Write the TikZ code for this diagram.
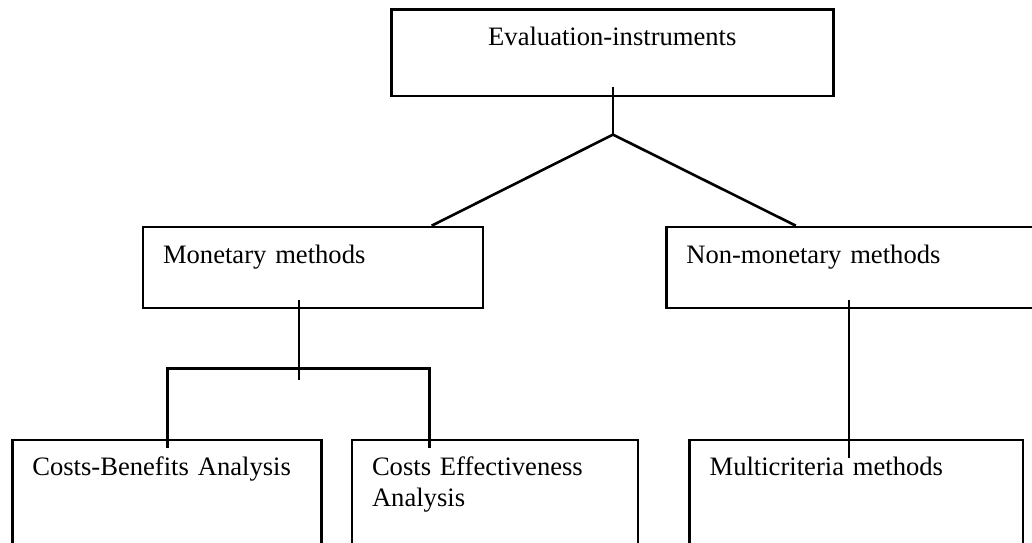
\documentclass[tikz,border=0pt]{standalone}
\usepackage{fontspec}
\setmainfont{Liberation Serif}
\usetikzlibrary{positioning}

\begin{document}
\begin{tikzpicture}[x=0.5pt, y=-0.5pt, line width=1.3pt,
    % boxes: text sits near the top, indented from the left edge
    box/.style={draw=black, anchor=north west, inner ysep=0pt, inner xsep=10pt,
                align=left, text height=18pt,
                font=\fontsize{13.3}{15.5}\selectfont},
    boxcentre/.style={box, align=center}]

  \useasboundingbox (0,0) rectangle (1032,542);

  % ---- top of the tree
  \node[boxcentre, text width=201pt, text depth=25.25pt] (eval) at (390,8)
    {Evaluation-instruments};

  % ---- the two families
  \node[box, text width=150pt, text depth=22.5pt] (mon) at (141.7,225.7)
    {Monetary methods};
  \node[box, text width=170pt, text depth=22.5pt] (nonmon) at (665,225.7)
    {Non-monetary methods};

  % ---- the methods themselves (boxes run off the bottom)
  \node[box, text width=134.5pt, text depth=52pt] (cba) at (11,438.5)
    {Costs-Benefits Analysis};
  \node[box, text width=123pt, text depth=52pt] (cea) at (350.7,438.5)
    {Costs Effectiveness\\Analysis};
  \node[box, text width=146.7pt, text depth=52pt] (mcm) at (688.3,438.5)
    {Multicriteria methods};

  % ---- joints of the connectors
  \coordinate (evalfoot) at ([xshift=111.5pt, yshift=5.25pt]eval.south west);
  \coordinate[below=24pt of evalfoot] (fork);
  \coordinate (monjoin) at ([xshift=145pt]mon.north west);
  \coordinate (nonjoin) at ([xshift=65.4pt]nonmon.north west);

  \coordinate (monstem) at ([xshift=78.65pt, yshift=4.7pt]mon.south west);
  \coordinate[below=40pt of monstem] (monstemend);
  \coordinate (cbafoot) at ([xshift=78.35pt, yshift=-4.75pt]cba.north west);
  \coordinate (ceafoot) at ([xshift=39.3pt, yshift=-4.75pt]cea.north west);
  \coordinate[above=39.85pt of cbafoot] (barleft);
  \coordinate[above=39.85pt of ceafoot] (barright);

  \coordinate (nonstem) at ([xshift=92pt, yshift=4.7pt]nonmon.south west);
  \coordinate (mcmfoot) at ([xshift=80.35pt, yshift=-9.9pt]mcm.north west);

  % ---- connectors
  \draw (evalfoot) -- (fork);
  \draw (monjoin) -- (fork) -- (nonjoin);
  \draw (monstem) -- (monstemend);
  \draw (cbafoot) -- (barleft) -- (barright) -- (ceafoot);
  \draw (nonstem) -- (mcmfoot);
\end{tikzpicture}
\end{document}
